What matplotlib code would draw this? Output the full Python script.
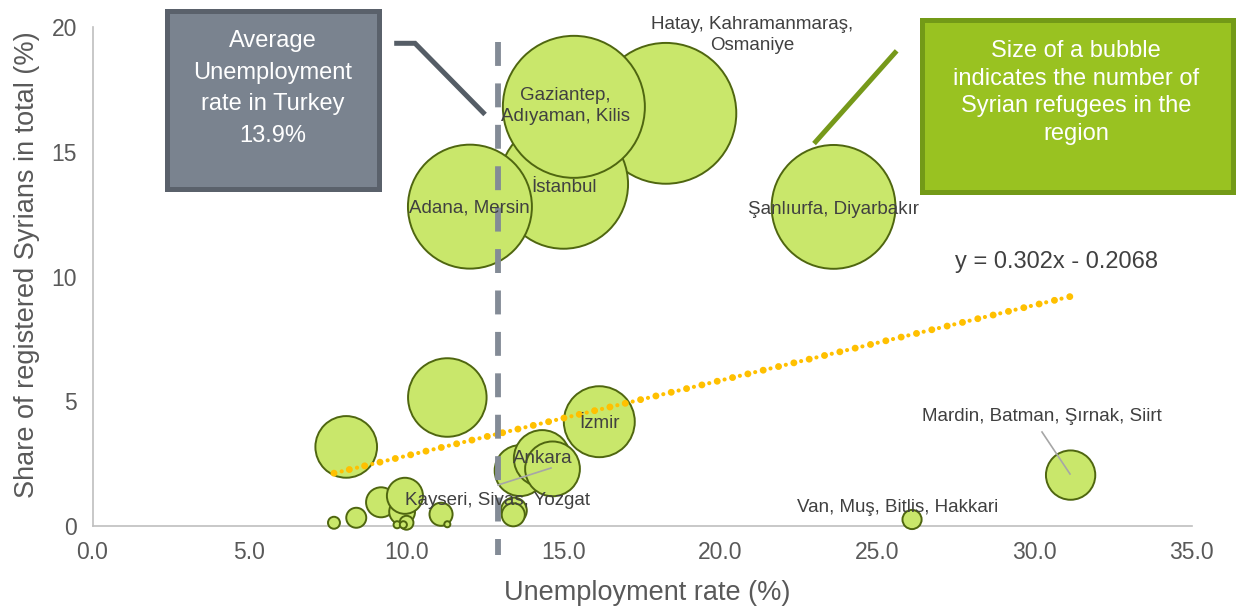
import matplotlib
matplotlib.use("Agg")
import matplotlib.pyplot as plt
import numpy as np
from matplotlib.patches import Rectangle
from matplotlib.lines import Line2D

plt.rcParams['font.family'] = ['Liberation Sans', 'DejaVu Sans']

# ---------------- data ----------------
labels = ["Hatay, Kahramanmaraş,\nOsmaniye", "İstanbul", "Gaziantep,\nAdıyaman, Kilis",
          "Adana, Mersin", "Şanlıurfa, Diyarbakır", "", "", "İzmir", "", "Ankara", "",
          "Mardin, Batman, Şırnak, Siirt", "", "", "Kayseri, Sivas, Yozgat", "", "", "", "",
          "Van, Muş, Bitlis, Hakkari", "", "", "", "", ""]
unemployment = [18.26, 15.00, 15.33, 12.02, 23.60, 11.30, 8.08, 16.14, 13.62, 14.32, 14.65,
                31.15, 9.19, 9.86, 9.95, 13.42, 13.40, 11.10, 8.40, 26.10, 7.69, 10.00, 9.70, 9.90, 11.30]
share_syrians = [16.54, 13.70, 16.80, 12.80, 12.79, 5.15, 3.17, 4.18, 2.22, 2.71, 2.29,
                 2.04, 0.95, 0.57, 1.21, 0.62, 0.45, 0.47, 0.33, 0.26, 0.13, 0.13, 0.05, 0.05, 0.07]
refugees_k = [595, 500, 605, 461, 460, 185, 114, 151, 78, 96, 90,
              73, 27, 20, 39, 20, 16, 16, 12, 11, 4.3, 5.8, 1.5, 1.5, 1.1]

x_ticks = [0, 5, 10, 15, 20, 25, 30, 35]
y_ticks = [0, 5, 10, 15, 20]
trend_slope = 0.302
trend_intercept = -0.2068
avg_line_x = 12.9

# label positions (data coords)
label_pos = {
    "Hatay, Kahramanmaraş,\nOsmaniye": (21.0, 19.68),
    "Gaziantep,\nAdıyaman, Kilis": (15.05, 16.83),
    "İstanbul": (15.03, 13.55),
    "Adana, Mersin": (12.0, 12.73),
    "Şanlıurfa, Diyarbakır": (23.6, 12.70),
    "İzmir": (16.16, 4.12),
    "Ankara": (14.33, 2.69),
    "Kayseri, Sivas, Yozgat": (12.9, 1.01),
    "Mardin, Batman, Şırnak, Siirt": (30.25, 4.38),
    "Van, Muş, Bitlis, Hakkari": (25.65, 0.75),
}

W, H = 1236, 608
fig = plt.figure(figsize=(W / 100, H / 100), dpi=100)
ax = fig.add_axes([92.5 / W, (H - 526) / H, 1099 / W, 499 / H])
ax.set_xlim(0, 35)
ax.set_ylim(0, 20)

# bubbles
sizes = [17.28 * r for r in refugees_k]
ax.scatter(unemployment, share_syrians, s=sizes, facecolor='#C9E76B', edgecolor='#4F6610',
           linewidth=1.4, zorder=3, clip_on=False)

# trendline
xt = np.array([min(unemployment), max(unemployment)])
yt = trend_slope * xt + trend_intercept
ax.plot(xt, yt, color='#FFC000', lw=5.0, linestyle=(0, (0.01, 2.26)),
        dash_capstyle='round', zorder=4)
ax.plot(xt, yt, color='#FFC000', lw=3.0, linestyle=(1.88, (0.01, 3.77)),
        dash_capstyle='round', zorder=4)

# average unemployment line
ax.plot([avg_line_x, avg_line_x], [19.4, -1.16], color='#838B96', lw=4.2,
        linestyle=(0, (4.1, 3.0)), dash_capstyle='butt', zorder=5, clip_on=False)

# labels
for lab, (lx, ly) in label_pos.items():
    ax.text(lx, ly, lab, ha='center', va='center', fontsize=13.5, color='#404040',
            linespacing=1.3, zorder=6)
ax.text(30.7, 10.58, "y = 0.302x - 0.2068", ha='center', va='center', fontsize=17,
        color='#404040', zorder=6)

# leader lines
def data_from_px(px, py):
    return ((px - 92.5) / 31.4, (526 - py) / 24.95)

for (p1, p2) in [((498, 485), (551, 468)), ((1042, 432), (1070, 474))]:
    a = data_from_px(*p1)
    b = data_from_px(*p2)
    ax.plot([a[0], b[0]], [a[1], b[1]], color='#A6A6A6', lw=1.2, zorder=6)

# axes styling
for s in ['top', 'right']:
    ax.spines[s].set_visible(False)
for s in ['left', 'bottom']:
    ax.spines[s].set_color('#BFBFBF')
    ax.spines[s].set_linewidth(1.2)
ax.set_xticks(x_ticks)
ax.set_xticklabels([f"{v:.1f}" for v in x_ticks])
ax.set_yticks(y_ticks)
ax.set_yticklabels([str(v) for v in y_ticks])
ax.tick_params(length=0, labelsize=16.5, labelcolor='#595959')
ax.tick_params(axis='x', pad=11)
ax.tick_params(axis='y', pad=11)
ax.set_xlabel("Unemployment rate (%)", fontsize=19.5, color='#595959')
ax.set_ylabel("Share of registered Syrians in total (%)", fontsize=19.5, color='#595959')
ax.xaxis.label.set_va('center')
ax.yaxis.label.set_va('center')
ax.xaxis.set_label_coords((647 - 92.5) / 1099, (526 - 593) / 499)
ax.yaxis.set_label_coords((27 - 92.5) / 1099, (526 - 265) / 499)

# decorations in figure pixel coords
def f(px, py):
    return (px / W, 1 - py / H)

# grey callout box
x0, y0, x1, y1 = 166.8, 10.8, 379.2, 189.2
fig.add_artist(Rectangle(f(x0, y1), (x1 - x0) / W, (y1 - y0) / H, transform=fig.transFigure,
                         facecolor='#7A838F', edgecolor='#5A616B', linewidth=3.6, zorder=10))
fig.text(*f(273, 88.5), "Average\nUnemployment\nrate in Turkey\n13.9%", ha='center', va='center',
         fontsize=17, color='white', linespacing=1.55, zorder=11)
pts = [f(396.7, 43.3), f(415, 43.3), f(483.3, 112.7)]
fig.add_artist(Line2D([p[0] for p in pts], [p[1] for p in pts], transform=fig.transFigure,
                      color='#555D66', lw=3.6, zorder=10, solid_joinstyle='miter'))

# green callout box
x0, y0, x1, y1 = 922.5, 19.8, 1233.5, 191.5
fig.add_artist(Rectangle(f(x0, y1), (x1 - x0) / W, (y1 - y0) / H, transform=fig.transFigure,
                         facecolor='#99C221', edgecolor='#739A17', linewidth=3.6, zorder=10))
fig.text(*f(1076, 92.5), "Size of a bubble\nindicates the number of\nSyrian refugees in the\nregion",
         ha='center', va='center', fontsize=17, color='white', linespacing=1.32, zorder=11)
pts = [f(895, 52.7), f(815.7, 141.7)]
fig.add_artist(Line2D([p[0] for p in pts], [p[1] for p in pts], transform=fig.transFigure,
                      color='#76991A', lw=3.6, zorder=10))

fig.savefig("out.png", dpi=100)
